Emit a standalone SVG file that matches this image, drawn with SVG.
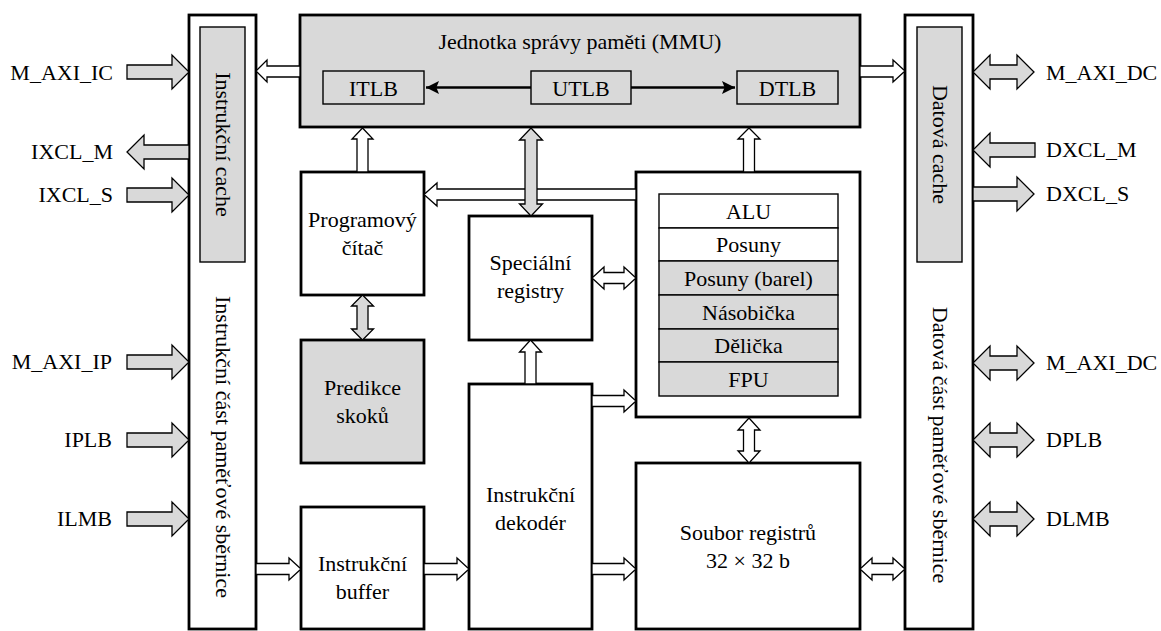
<svg xmlns="http://www.w3.org/2000/svg" width="1161" height="631" viewBox="0 0 1161 631">
<style>
.box{fill:#fff;stroke:#000;stroke-width:2.8}
.gbox{fill:#d9d9d9;stroke:#000;stroke-width:2.8}
.in{fill:#fff;stroke:#000;stroke-width:1.4}
.gin{fill:#d9d9d9;stroke:#000;stroke-width:1.4}
text{font-family:'Liberation Serif','Times New Roman',serif;font-size:22px;fill:#000}
.t{text-anchor:middle}
.tl{text-anchor:end}
.tr{text-anchor:start}
.ha{fill:#fff;stroke:#000;stroke-width:1.3}
.ga{fill:#d9d9d9;stroke:#000;stroke-width:1.3}
.bl{stroke:#000;stroke-width:2.6;fill:none}
</style>
<defs>
<marker id="ah" viewBox="0 0 10 10" refX="10" refY="5" markerWidth="6" markerHeight="5" markerUnits="strokeWidth" orient="auto">
<path d="M0,0 L10,5 L0,10 L2,5 Z" fill="#000"/>
</marker>
</defs>

<g id="ibus">
<rect class="box" x="189" y="15" width="67" height="614"/>
<rect class="gin" x="200" y="27" width="45" height="235"/>
<text class="t" transform="translate(222.5,144.5) rotate(90)" y="7">Instrukční cache</text>
<text class="t" transform="translate(222.5,447) rotate(90)" y="7">Instrukční část paměťové sběrnice</text>
</g>
<g id="dbus">
<rect class="box" x="905" y="15" width="68" height="614"/>
<rect class="gin" x="917" y="27" width="45" height="235"/>
<text class="t" transform="translate(939.5,144.5) rotate(90)" y="7">Datová cache</text>
<text class="t" transform="translate(939.5,445) rotate(90)" y="7">Datová část paměťové sběrnice</text>
</g>
<g id="mmu">
<rect class="gbox" x="300" y="15" width="560" height="112"/>
<text class="t" x="580" y="49">Jednotka správy paměti (MMU)</text>
<rect class="gin" x="323" y="71" width="101" height="33"/>
<text class="t" x="373.5" y="96">ITLB</text>
<rect class="gin" x="531" y="71" width="100" height="33"/>
<text class="t" x="581" y="96">UTLB</text>
<rect class="gin" x="737" y="71" width="101" height="33"/>
<text class="t" x="787.5" y="96">DTLB</text>
</g>
<g id="pc">
<rect class="box" x="301" y="172" width="123" height="123"/>
<text class="t" x="362.5" y="227">Programový</text>
<text class="t" x="362.5" y="255">čítač</text>
</g>
<g id="pred">
<rect class="gbox" x="301" y="340" width="123" height="123"/>
<text class="t" x="362.5" y="395">Predikce</text>
<text class="t" x="362.5" y="423">skoků</text>
</g>
<g id="buf">
<rect class="box" x="301" y="507" width="123" height="122"/>
<text class="t" x="362.5" y="571">Instrukční</text>
<text class="t" x="362.5" y="599">buffer</text>
</g>
<g id="sr">
<rect class="box" x="469" y="216" width="123" height="124"/>
<text class="t" x="530.5" y="270">Speciální</text>
<text class="t" x="530.5" y="298">registry</text>
</g>
<g id="dec">
<rect class="box" x="469" y="384" width="123" height="245"/>
<text class="t" x="530.5" y="502">Instrukční</text>
<text class="t" x="530.5" y="530">dekodér</text>
</g>
<g id="exec">
<rect class="box" x="636" y="172" width="224" height="245"/>
<rect class="in" x="659" y="194" width="179" height="34"/>
<rect class="in" x="659" y="228" width="179" height="33"/>
<rect class="gin" x="659" y="261" width="179" height="34"/>
<rect class="gin" x="659" y="295" width="179" height="34"/>
<rect class="gin" x="659" y="329" width="179" height="33"/>
<rect class="gin" x="659" y="362" width="179" height="34"/>
<text class="t" x="748.5" y="219">ALU</text>
<text class="t" x="748.5" y="252">Posuny</text>
<text class="t" x="748.5" y="286">Posuny (barel)</text>
<text class="t" x="748.5" y="320">Násobička</text>
<text class="t" x="748.5" y="353">Dělička</text>
<text class="t" x="748.5" y="387">FPU</text>
</g>
<g id="rf">
<rect class="box" x="636" y="463" width="224" height="166"/>
<text class="t" x="748" y="540">Soubor registrů</text>
<text class="t" x="748" y="568">32 × 32 b</text>
</g>

<g id="labels">
<text class="tl" x="113" y="80">M_AXI_IC</text>
<text class="tl" x="113" y="159">IXCL_M</text>
<text class="tl" x="113" y="202">IXCL_S</text>
<text class="tl" x="112" y="369">M_AXI_IP</text>
<text class="tl" x="112" y="447">IPLB</text>
<text class="tl" x="112" y="526">ILMB</text>
<text class="tr" x="1046" y="80">M_AXI_DC</text>
<text class="tr" x="1046" y="157">DXCL_M</text>
<text class="tr" x="1046" y="201">DXCL_S</text>
<text class="tr" x="1046" y="370">M_AXI_DC</text>
<text class="tr" x="1046" y="447">DPLB</text>
<text class="tr" x="1046" y="526">DLMB</text>
</g>

<g id="connectors">
<line class="bl" x1="531" y1="87.5" x2="426" y2="87.5" marker-end="url(#ah)"/>
<line class="bl" x1="631" y1="87.5" x2="735" y2="87.5" marker-end="url(#ah)"/>
<polygon class="ha" points="300,66 267,66 267,60 256,71 267,82 267,77 300,77"/>
<polygon class="ha" points="860,66 893,66 893,60 905,71 893,82 893,77 860,77"/>
<polygon class="ha" points="357,172 357,139 352,139 362.5,128 373,139 368,139 368,172"/>
<polygon class="ha" points="743.5,172 743.5,139 738,139 749,128 760,139 754.5,139 754.5,172"/>
<polygon class="ha" points="636,189 437,189 437,183 424,194.5 437,206 437,200 636,200"/>
<polygon class="ga" points="525,140 519.5,140 531,128 542.5,140 537,140 537,204 542.5,204 531,216 519.5,204 525,204"/>
<polygon class="ga" points="357,306 351.5,306 362.5,295 373.5,306 368,306 368,329 373.5,329 362.5,340 351.5,329 357,329"/>
<polygon class="ha" points="604,272.5 604,267 592,278 604,289 604,283.5 624,283.5 624,289 636,278 624,267 624,272.5"/>
<polygon class="ha" points="525,384 525,352 519.5,352 530.5,340 541.5,352 536,352 536,384"/>
<polygon class="ha" points="592,395.5 624,395.5 624,390 636,401 624,412 624,406.5 592,406.5"/>
<polygon class="ha" points="743.5,430 738,430 749,418 760,430 754.5,430 754.5,451 760,451 749,463 738,451 743.5,451"/>
<polygon class="ha" points="256,563.5 289,563.5 289,558 301,569 289,580 289,574.5 256,574.5"/>
<polygon class="ha" points="424,563.5 457,563.5 457,558 469,569 457,580 457,574.5 424,574.5"/>
<polygon class="ha" points="592,563.5 624,563.5 624,558 636,569 624,580 624,574.5 592,574.5"/>
<polygon class="ha" points="872,563.5 872,558 860,569 872,580 872,574.5 893,574.5 893,580 905,569 893,558 893,563.5"/>
<polygon class="ga" points="127,65 172,65 172,55 189,72 172,89 172,79 127,79"/>
<polygon class="ga" points="189,145 144,145 144,135 127,152 144,169 144,159 189,159"/>
<polygon class="ga" points="127,188 172,188 172,178 189,195 172,212 172,202 127,202"/>
<polygon class="ga" points="127,355 172,355 172,345 189,362 172,379 172,369 127,369"/>
<polygon class="ga" points="127,433 172,433 172,423 189,440 172,457 172,447 127,447"/>
<polygon class="ga" points="127,512 172,512 172,502 189,519 172,536 172,526 127,526"/>
<polygon class="ga" points="990,65 990,55 973,72 990,89 990,79 1017,79 1017,89 1034,72 1017,55 1017,65"/>
<polygon class="ga" points="1035,143 990,143 990,133 973,150 990,167 990,157 1035,157"/>
<polygon class="ga" points="973,187 1017,187 1017,177 1034,194 1017,211 1017,201 973,201"/>
<polygon class="ga" points="990,356 990,346 973,363 990,380 990,370 1017,370 1017,380 1034,363 1017,346 1017,356"/>
<polygon class="ga" points="990,433 990,423 973,440 990,457 990,447 1017,447 1017,457 1034,440 1017,423 1017,433"/>
<polygon class="ga" points="990,512 990,502 973,519 990,536 990,526 1017,526 1017,536 1034,519 1017,502 1017,512"/>
</g>
</svg>
